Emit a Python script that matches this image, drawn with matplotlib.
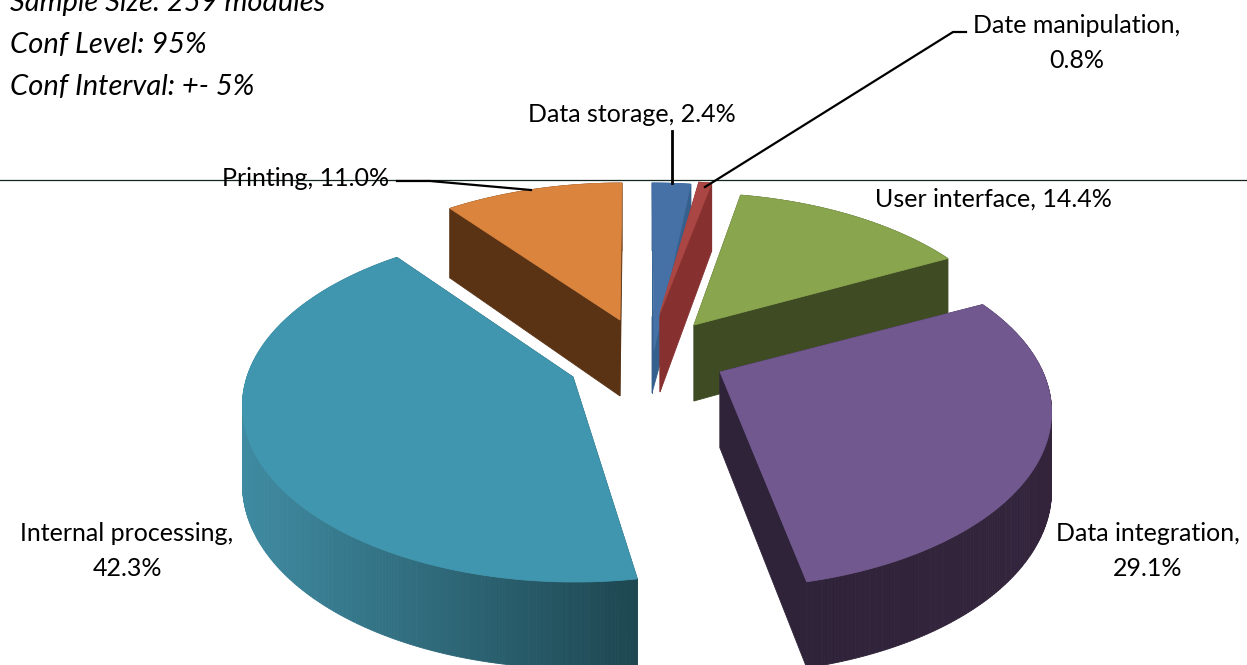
import numpy as np
import matplotlib
matplotlib.use('Agg')
import matplotlib.pyplot as plt
from matplotlib.colors import to_rgb
from matplotlib.patches import Polygon

categories = ['Data storage', 'Date manipulation', 'User interface',
              'Data integration', 'Internal processing', 'Printing']
shares = [2.4, 0.8, 14.4, 29.1, 42.3, 11.0]
notes = ['Sample Size: 259 modules', 'Conf Level: 95%', 'Conf Interval: +- 5%']

# Look of each slice
top_colors = ['#4571a6', '#aa4643', '#89a54e', '#71588f', '#4096ae', '#db843d']
wall_colors = ['#355f8c', '#86302f', '#3f4c23', '#2f2339', '#1f4a56', '#5a3315']
rim_left = ['#355f8c', '#86302f', '#3f4c23', '#2f2339', '#3f8ba2', '#5a3315']
rim_right = ['#355f8c', '#86302f', '#3f4c23', '#33243c', '#1e4751', '#5a3315']
centers = [(652, 315), (660, 313), (689, 325), (719, 368), (575, 362), (622, 315)]
apexes = [(654, 350), (660, 313), (694, 325), (720, 372), (573, 377), (620, 320)]
wall_tips = [(652, 317), (660, 316), (694, 325), (720, 372), (573, 377), (620, 320)]
start_trim = [0, 0, 0, 1.5, 3.5, 0]
end_trim = [0, 0, 0, 0, 1.5, 0]
draw_order = [5, 0, 1, 2, 4, 3]

RX, RY = 322, 165
TILT = 0.25
DEPTH = 76
DEPTH_TILT = 0.12

plt.rcParams['font.family'] = ['Lato', 'DejaVu Sans']

fig = plt.figure(figsize=(12.47, 6.65), dpi=100)
ax = fig.add_axes([0, 0, 1, 1])
ax.set_xlim(0, 1247)
ax.set_ylim(665, 0)
ax.axis('off')


def project(theta, center):
    u, v = np.sin(theta), np.cos(theta)
    x = center[0] + RX * u / (1 + TILT * v)
    y = center[1] - RY * v / (1 + TILT * v)
    depth = DEPTH / (1 + DEPTH_TILT * v)
    return x, y, depth


def mix(c1, c2, t):
    a, b = np.array(to_rgb(c1)), np.array(to_rgb(c2))
    return tuple(a + (b - a) * t)


def add_poly(xs, ys, color, z):
    ax.add_patch(Polygon(np.column_stack([xs, ys]), closed=True, facecolor=color,
                         edgecolor=color, lw=0.6, zorder=z))


ax.plot([0, 1247], [179.5, 179.5], color='#12261f', lw=0.9, zorder=1)

edges = np.cumsum([0] + shares) / 100 * 2 * np.pi
z = 2
for i in draw_order:
    t0 = edges[i] + np.radians(start_trim[i])
    t1 = edges[i + 1] - np.radians(end_trim[i])
    theta = np.linspace(t0, t1, max(int(np.degrees(t1 - t0)) * 2, 4))
    x, y, d = project(theta, centers[i])
    ax0, ay0 = apexes[i]
    wx, wy = wall_tips[i]

    # radial walls
    add_poly([wx, x[0], x[0], wx], [wy, y[0], y[0] + d[0], wy + DEPTH], wall_colors[i], z)
    add_poly([wx, x[-1], x[-1], wx], [wy, y[-1], y[-1] + d[-1], wy + DEPTH], wall_colors[i], z)
    z += 1

    # outer wall, shaded from left to right
    for j in np.argsort(-np.cos((theta[:-1] + theta[1:]) / 2)):
        t = (x[j] - x.min()) / (x.max() - x.min())
        add_poly([x[j], x[j + 1], x[j + 1], x[j]],
                 [y[j], y[j + 1], y[j + 1] + d[j + 1], y[j] + d[j]],
                 mix(rim_left[i], rim_right[i], t), z)
    z += 1

    # top face
    add_poly(np.r_[ax0, x], np.r_[ay0, y], top_colors[i], z)
    z += 1

# Labels built from the values
lab = {c: '%s, %.1f%%' % (c, s) for c, s in zip(categories, shares)}
two_line = {c: '%s,\n%.1f%%' % (c, s) for c, s in zip(categories, shares)}
fs = 18
ax.text(632, 114, lab['Data storage'], ha='center', va='center', fontsize=fs, zorder=50)
ax.text(1077, 43, two_line['Date manipulation'], ha='center', va='center',
        fontsize=fs, linespacing=1.65, zorder=50)
ax.text(993, 199, lab['User interface'], ha='center', va='center', fontsize=fs, zorder=50)
ax.text(1148, 551, two_line['Data integration'], ha='center', va='center',
        fontsize=fs, linespacing=1.65, zorder=50)
ax.text(127, 551, two_line['Internal processing'], ha='center', va='center',
        fontsize=fs, linespacing=1.65, zorder=50)
ax.text(306, 178, lab['Printing'], ha='center', va='center', fontsize=fs, zorder=50)

for note, ny in zip(notes, [3, 45, 87]):
    ax.text(10, ny, note, ha='left', va='center', fontsize=21, style='italic', zorder=50,
            clip_on=False)

# Leader lines
ax.plot([672, 672], [131, 183], color='black', lw=2, zorder=40)
ax.plot([397, 430, 531], [181, 181, 190], color='black', lw=1.6, zorder=40)
ax.plot([705, 953, 966], [187, 32, 32], color='black', lw=1.6, zorder=40)

fig.savefig('out.png', dpi=100)
